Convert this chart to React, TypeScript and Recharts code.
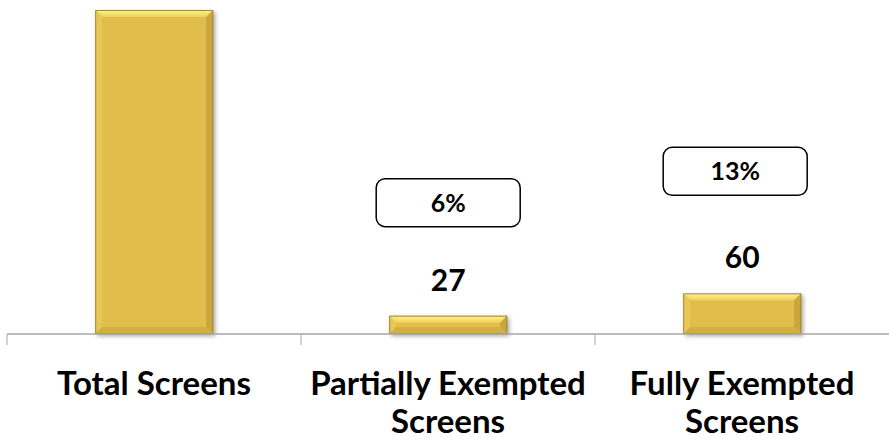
import { Bar, BarChart, LabelList, XAxis, YAxis } from "recharts";

const categories = ["Total Screens", "Partially Exempted Screens", "Fully Exempted Screens"];
const tickLines = [["Total Screens"], ["Partially Exempted", "Screens"], ["Fully Exempted", "Screens"]];
const screens = [478, 27, 60];

const total = screens[0];
const data = categories.map((name, i) => ({
  name,
  screens: screens[i],
  share: Math.round((screens[i] / total) * 100),
}));

// where the share callouts sit relative to each bar top
const callouts = [null, { dx: 0, lift: 113 }, { dx: -7, lift: 122 }];

const FONT = "Lato, 'Open Sans', sans-serif";

function BevelBar(props: any) {
  const { x, y, width: w, height: h } = props;
  if (!h || h <= 0) return null;
  const b = Math.min(7, h / 2.5);
  return (
    <g>
      <rect x={x + 2} y={y + 2} width={w} height={h} fill="rgba(0,0,0,0.35)" filter="url(#barShadow)" />
      <rect x={x} y={y} width={w} height={h} fill="#E1BE4C" />
      <polygon points={`${x},${y} ${x + w},${y} ${x + w - b},${y + b} ${x + b},${y + b}`} fill="url(#bevelTop)" />
      <polygon points={`${x},${y} ${x + b},${y + b} ${x + b},${y + h - b} ${x},${y + h}`} fill="#E8C757" />
      <polygon points={`${x + w},${y} ${x + w},${y + h} ${x + w - b},${y + h - b} ${x + w - b},${y + b}`} fill="#C9A63E" />
      <polygon points={`${x},${y + h} ${x + b},${y + h - b} ${x + w - b},${y + h - b} ${x + w},${y + h}`} fill="#D2AF45" />
      <rect x={x + 0.5} y={y + 0.5} width={w - 1} height={h - 1} fill="none" stroke="#A88B33" strokeWidth={1} />
    </g>
  );
}

function CategoryTick(props: any) {
  const { x, y, payload, index } = props;
  const half = payload.offset ?? 0;
  const lines = tickLines[index] ?? [payload.value];
  return (
    <g>
      <line x1={x - half} x2={x - half} y1={y} y2={y + 11} stroke="#A6A6A6" strokeWidth={1} />
      <text x={x} y={y + 61} textAnchor="middle" fontFamily={FONT} fontWeight={700} fontSize={33} fill="#000">
        {lines.map((l: string, i: number) => (
          <tspan key={i} x={x} dy={i === 0 ? 0 : 38}>
            {l}
          </tspan>
        ))}
      </text>
    </g>
  );
}

function ValueLabel(props: any) {
  const { x, y, width, value, index } = props;
  if (index === 0) return null;
  return (
    <text x={x + width / 2} y={y - 25} textAnchor="middle" fontFamily={FONT} fontWeight={700} fontSize={30} fill="#000">
      {value}
    </text>
  );
}

function ShareCallout(props: any) {
  const { x, y, width, value, index } = props;
  const c = callouts[index];
  if (!c) return null;
  const cx = x + width / 2 + c.dx;
  const cy = y - c.lift;
  return (
    <g>
      <rect x={cx - 72} y={cy - 24} width={144} height={48} rx={9} fill="#fff" stroke="#000" strokeWidth={1.5} />
      <text x={cx} y={cy + 9} textAnchor="middle" fontFamily={FONT} fontWeight={700} fontSize={25} fill="#000">
        {value}%
      </text>
    </g>
  );
}

export default function App() {
  return (
    <div style={{ position: "absolute", left: 0, top: 0, width: 889, height: 444, background: "#fff" }}>
      <BarChart
        width={889}
        height={444}
        data={data}
        margin={{ top: 10, right: 0, bottom: 0, left: 7 }}
        barCategoryGap="30%"
      >
        <defs>
          <linearGradient id="bevelTop" x1="0" y1="0" x2="0" y2="1">
            <stop offset="0%" stopColor="#FFF28A" />
            <stop offset="100%" stopColor="#F0D05C" />
          </linearGradient>
          <filter id="barShadow" x="-20%" y="-20%" width="140%" height="140%">
            <feGaussianBlur stdDeviation="2" />
          </filter>
        </defs>
        <XAxis
          dataKey="name"
          height={110}
          axisLine={{ stroke: "#A6A6A6", strokeWidth: 1.5 }}
          tickLine={false}
          tickSize={0}
          tickMargin={0}
          interval={0}
          tick={<CategoryTick />}
        />
        <YAxis hide domain={[0, total]} />
        <Bar dataKey="screens" shape={<BevelBar />} isAnimationActive={false}>
          <LabelList dataKey="screens" content={<ValueLabel />} />
          <LabelList dataKey="share" content={<ShareCallout />} />
        </Bar>
      </BarChart>
    </div>
  );
}
